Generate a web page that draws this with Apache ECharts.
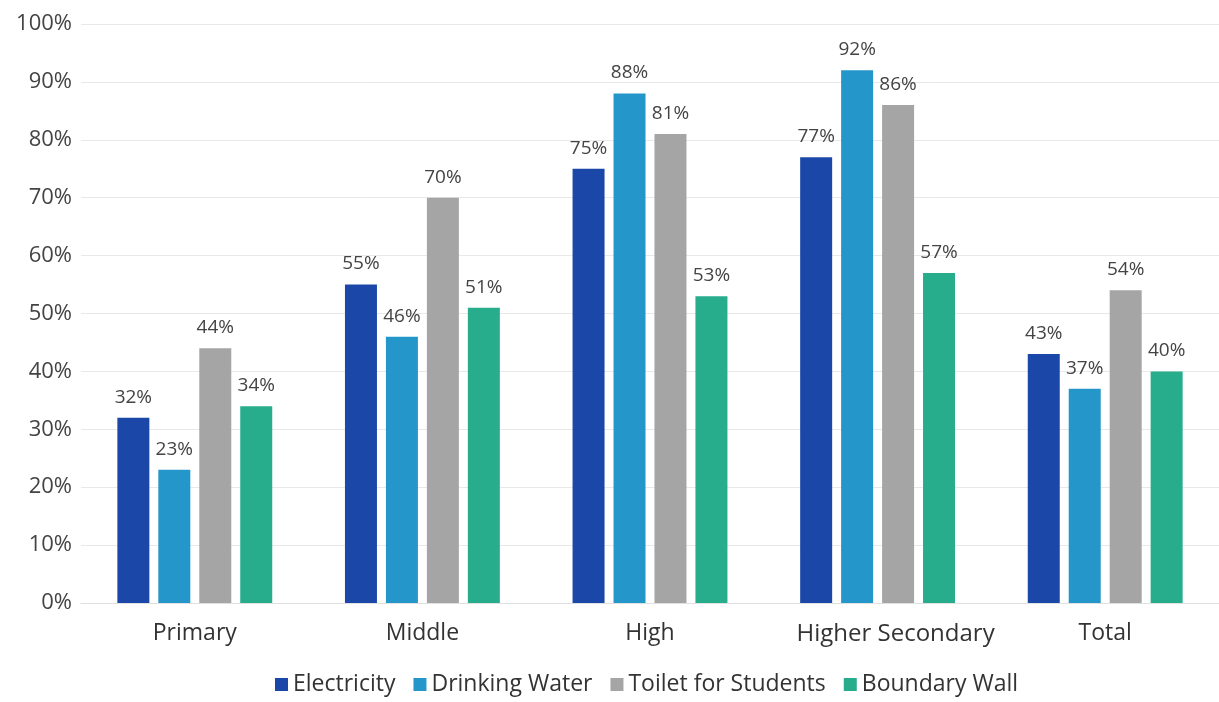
<!DOCTYPE html>
<html><head><meta charset="utf-8">
<script src="https://cdn.jsdelivr.net/npm/echarts@6/dist/echarts.min.js"></script>
<style>html,body{margin:0;padding:0;background:#fff}#c{width:1219px;height:702px}</style>
</head><body><div id="c"></div>
<script>
const categories = ['Primary','Middle','High','Higher Secondary','Total'];
const electricity = [32,55,75,77,43];
const drinkingWater = [23,46,88,92,37];
const toiletForStudents = [44,70,81,86,54];
const boundaryWall = [34,51,53,57,40];
const seriesNames = ['Electricity','Drinking Water','Toilet for Students','Boundary Wall'];
const colors = ['#1b48a8','#2596c9','#a5a5a5','#27ac8c'];
const allData = [electricity, drinkingWater, toiletForStudents, boundaryWall];

const chart = echarts.init(document.getElementById('c'));
chart.setOption({
  animation:false,
  textStyle:{fontFamily:'Open Sans'},
  grid:{left:81,right:0,top:24,bottom:99,containLabel:false},
  legend:{bottom:1,left:270,itemWidth:13,itemHeight:13,itemGap:18,icon:'rect',
    textStyle:{fontSize:23,color:'#333',fontFamily:'Open Sans'},data:seriesNames},
  xAxis:{type:'category',data:categories,
    axisLine:{show:true,lineStyle:{color:'#e0e0e0'}},axisTick:{show:false},
    axisLabel:{interval:0,hideOverlap:false,fontSize:23,color:'#333',margin:19,
      formatter:function(v){return v==='Higher Secondary' ? '{hs|'+v+'}' : v;},
      rich:{hs:{fontSize:24,color:'#333',fontFamily:'Open Sans',padding:[0,0,0,36]}}}},
  yAxis:{type:'value',min:0,max:100,interval:10,
    axisLabel:{formatter:'{value}%',fontSize:22,color:'#444',margin:9},
    splitLine:{lineStyle:{color:'#e8e8e8'}},axisLine:{show:false},axisTick:{show:false}},
  series: seriesNames.map((n,i)=>({
    name:n,type:'bar',data:allData[i],barWidth:32,barGap:'28%',
    itemStyle:{color:colors[i]},
    label:{show:true,position:'top',formatter:'{c}%',fontSize:19,color:'#444',distance:11}
  }))
});
</script></body></html>
